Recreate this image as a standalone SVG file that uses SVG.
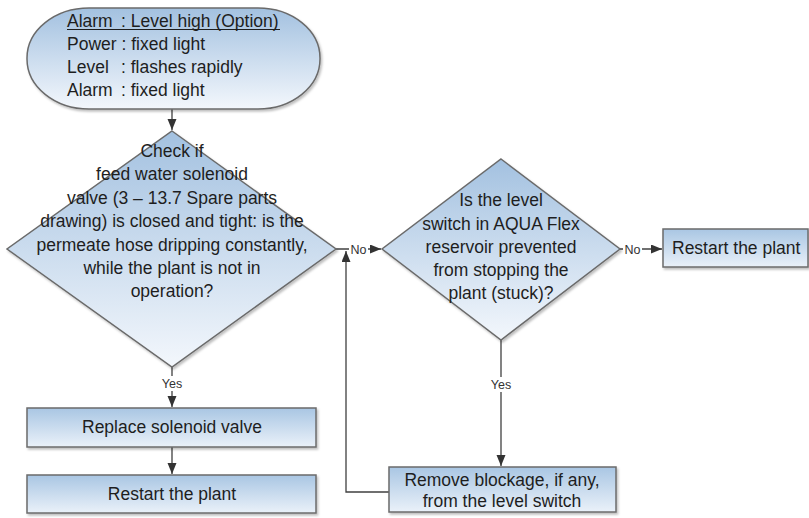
<svg xmlns="http://www.w3.org/2000/svg" width="809" height="518" viewBox="0 0 809 518">
<style>
.shape{stroke:#6b6b6b;stroke-width:1.5}
.t{font-family:"Liberation Sans",Arial,sans-serif;font-size:17.5px;fill:#1e1e1e}
.c{text-anchor:middle}
.lbl{font-family:"Liberation Sans",Arial,sans-serif;font-size:12.5px;fill:#333;text-anchor:middle}
.conn{stroke:#404040;stroke-width:1.3;fill:none}
.bg{fill:#ffffff}
</style>
<defs>
<linearGradient id="gd" x1="0" y1="0" x2="0" y2="1">
<stop offset="0" stop-color="#a3c1e0"/>
<stop offset="1" stop-color="#f3f7fc"/>
</linearGradient>
<linearGradient id="gb" x1="0" y1="0" x2="0" y2="1">
<stop offset="0" stop-color="#a9c6e3"/>
<stop offset="1" stop-color="#eaf1f9"/>
</linearGradient>
<filter id="sh" x="-10%" y="-10%" width="120%" height="130%">
<feDropShadow dx="1.5" dy="2" stdDeviation="1.2" flood-color="#000" flood-opacity="0.25"/>
</filter>
<marker id="ah" markerUnits="userSpaceOnUse" markerWidth="12" markerHeight="10" refX="11" refY="4.5" orient="auto">
<path d="M0,0 L11,4.5 L0,9 z" fill="#333"/>
</marker>
</defs>

<g id="connectors">
<line class="conn" x1="172" y1="109" x2="172" y2="130" marker-end="url(#ah)"/>
<line class="conn" x1="336" y1="249" x2="381" y2="249" marker-end="url(#ah)"/>
<rect class="bg" x="349" y="242" width="19" height="14"/>
<text class="lbl" x="358.5" y="253.5">No</text>
<line class="conn" x1="620" y1="249" x2="662" y2="249" marker-end="url(#ah)"/>
<rect class="bg" x="623" y="242" width="19" height="14"/>
<text class="lbl" x="632.5" y="253.5">No</text>
<line class="conn" x1="172" y1="367" x2="172" y2="407" marker-end="url(#ah)"/>
<rect class="bg" x="159" y="376" width="26" height="15"/>
<text class="lbl" x="172" y="388">Yes</text>
<line class="conn" x1="501" y1="340" x2="501" y2="466" marker-end="url(#ah)"/>
<rect class="bg" x="488" y="377" width="26" height="15"/>
<text class="lbl" x="501" y="389">Yes</text>
<line class="conn" x1="172" y1="447" x2="172" y2="474" marker-end="url(#ah)"/>
<polyline class="conn" points="389,492 346,492 346,251" marker-end="url(#ah)"/>
</g>

<g id="start">
<rect class="shape" x="27" y="8" width="293" height="101" rx="62" ry="50" fill="url(#gd)" filter="url(#sh)"/>
<text class="t" x="67" y="27">Alarm</text>
<text class="t" x="121" y="27">: Level high (Option)</text>
<line x1="67" y1="29.5" x2="280" y2="29.5" stroke="#1e1e1e" stroke-width="1"/>
<text class="t" x="67" y="50">Power : fixed light</text>
<text class="t" x="67" y="73">Level</text>
<text class="t" x="121" y="73">: flashes rapidly</text>
<text class="t" x="67" y="96">Alarm</text>
<text class="t" x="121" y="96">: fixed light</text>
</g>

<g id="decision1">
<polygon class="shape" points="172,131 336,249 172,367 7,249" fill="url(#gd)" filter="url(#sh)"/>
<text class="t c" x="172" y="157">Check if</text>
<text class="t c" x="172" y="180">feed water solenoid</text>
<text class="t c" x="172" y="204">valve (3 – 13.7 Spare parts</text>
<text class="t c" x="172" y="227">drawing) is closed and tight: is the</text>
<text class="t c" x="172" y="251">permeate hose dripping constantly,</text>
<text class="t c" x="172" y="274">while the plant is not in</text>
<text class="t c" x="172" y="297">operation?</text>
</g>

<g id="decision2">
<polygon class="shape" points="501,159 620,249 501,340 382,249" fill="url(#gd)" filter="url(#sh)"/>
<text class="t c" x="501" y="206">Is the level</text>
<text class="t c" x="501" y="230">switch in AQUA Flex</text>
<text class="t c" x="501" y="253">reservoir prevented</text>
<text class="t c" x="501" y="276">from stopping the</text>
<text class="t c" x="501" y="299">plant (stuck)?</text>
</g>

<g id="restart-right">
<rect class="shape" x="663" y="229" width="145" height="38" fill="url(#gb)" filter="url(#sh)"/>
<text class="t" x="672" y="254">Restart the plant</text>
</g>

<g id="replace">
<rect class="shape" x="27" y="408" width="289" height="39" fill="url(#gb)" filter="url(#sh)"/>
<text class="t c" x="172" y="433">Replace solenoid valve</text>
</g>

<g id="restart-left">
<rect class="shape" x="27" y="475" width="289" height="38" fill="url(#gb)" filter="url(#sh)"/>
<text class="t c" x="172" y="500">Restart the plant</text>
</g>

<g id="remove">
<rect class="shape" x="389" y="467" width="227" height="45" fill="url(#gb)" filter="url(#sh)"/>
<text class="t c" x="502" y="486">Remove blockage, if any,</text>
<text class="t c" x="502" y="507">from the level switch</text>
</g>
</svg>
